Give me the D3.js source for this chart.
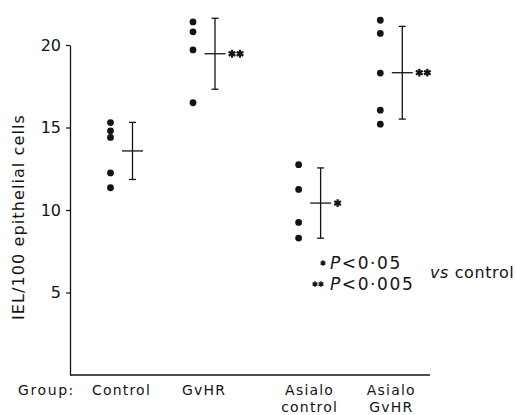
<!DOCTYPE html>
<html>
  <head>
    <meta charset="utf-8">
    <script src="https://d3js.org/d3.v7.min.js"></script>
    <style>
      body { margin: 0; background: #fff; }
      text { font-family: "DejaVu Sans", sans-serif; fill: #141414; }
    </style>
  </head>
<body>
  <script type="text/javascript">
    // groups along the x axis (label lines)
    var groups = ["Control", "GvHR", "Asialo control", "Asialo GvHR"];
    var groupLabels = [["Control"], ["GvHR"], ["Asialo", "control"], ["Asialo", "GvHR"]];

    // individual animals, IEL per 100 epithelial cells
    var controlVals = [15.3, 14.8, 14.4, 12.25, 11.35];
    var gvhrVals = [21.4, 20.8, 19.7, 16.5];
    var asialoControlVals = [12.75, 11.25, 9.25, 8.3];
    var asialoGvhrVals = [21.5, 20.7, 18.3, 16.05, 15.2];

    // group mean and SD
    var means = [13.58, 19.47, 10.42, 18.32];
    var sds = [1.73, 2.15, 2.13, 2.81];

    // significance vs control
    var stars = [0, 2, 1, 2];

    var yTicks = [5, 10, 15, 20];

    var allVals = [controlVals, gvhrVals, asialoControlVals, asialoGvhrVals];

    var width = 517, height = 415;
    // slot of each group on the x axis (wider gap before the asialo groups)
    var slot = [0, 1, 2.28, 3.27];

    var svg = d3.select("body").append("svg")
      .attr("width", width)
      .attr("height", height);

    var x = d3.scaleLinear().domain([-0.624, 3.739]).range([70, 430]);
    var y = d3.scaleLinear().domain([0, 20]).range([375, 45]);

    var ink = "#141414";

    // y axis
    var yAxis = svg.append("g")
      .attr("transform", "translate(70,0)")
      .call(d3.axisLeft(y).tickValues(yTicks).tickSize(4).tickSizeOuter(0).tickPadding(5));
    yAxis.select(".domain").attr("stroke", ink).attr("stroke-width", 1.3);
    yAxis.selectAll(".tick line").attr("stroke", ink).attr("stroke-width", 1.2);
    yAxis.selectAll(".tick text")
      .style("font-size", "16px")
      .style("font-family", "DejaVu Sans, sans-serif")
      .attr("fill", ink);

    // x axis line (no ticks)
    svg.append("line")
      .attr("x1", x.range()[0]).attr("x2", x.range()[1])
      .attr("y1", y(0)).attr("y2", y(0))
      .attr("stroke", ink).attr("stroke-width", 1.3);

    // y axis title
    svg.append("text")
      .attr("transform", "translate(24," + 217 + ") rotate(-90)")
      .attr("text-anchor", "middle")
      .style("font-size", "16px")
      .style("letter-spacing", "1.1px")
      .text("IEL/100 epithelial cells");

    // group labels
    svg.append("text")
      .attr("x", 18).attr("y", 395)
      .style("font-size", "14px")
      .style("letter-spacing", "1.6px")
      .text("Group:");

    groupLabels.forEach(function (lines, i) {
      lines.forEach(function (t, j) {
        svg.append("text")
          .attr("x", x(slot[i]))
          .attr("y", 395 + j * 16.5)
          .attr("text-anchor", "middle")
          .style("font-size", "14px")
          .style("letter-spacing", "1.2px")
          .text(t);
      });
    });

    var off = 11;

    // points
    allVals.forEach(function (vals, i) {
      svg.append("g").selectAll("circle")
        .data(vals)
        .enter().append("circle")
          .attr("cx", x(slot[i]) - off)
          .attr("cy", function (d) { return y(d); })
          .attr("r", 3.4)
          .attr("fill", ink);
    });

    // mean +/- SD
    var bars = svg.append("g").selectAll("g")
      .data(groups)
      .enter().append("g")
        .attr("stroke", ink)
        .attr("stroke-width", 1.3);

    bars.append("line")
      .attr("x1", function (d, i) { return x(slot[i]) + off; })
      .attr("x2", function (d, i) { return x(slot[i]) + off; })
      .attr("y1", function (d, i) { return y(means[i] + sds[i]); })
      .attr("y2", function (d, i) { return y(means[i] - sds[i]); });

    [1, -1].forEach(function (s) {
      bars.append("line")
        .attr("x1", function (d, i) { return x(slot[i]) + off - 3.5; })
        .attr("x2", function (d, i) { return x(slot[i]) + off + 3.5; })
        .attr("y1", function (d, i) { return y(means[i] + s * sds[i]); })
        .attr("y2", function (d, i) { return y(means[i] + s * sds[i]); });
    });

    bars.append("line")
      .attr("x1", function (d, i) { return x(slot[i]) + off - 10.5; })
      .attr("x2", function (d, i) { return x(slot[i]) + off + 10.5; })
      .attr("y1", function (d, i) { return y(means[i]); })
      .attr("y2", function (d, i) { return y(means[i]); });

    // asterisks
    function drawStar(cx, cy, size, sw) {
      svg.append("path")
        .attr("d", d3.symbol().type(d3.symbolAsterisk).size(size)())
        .attr("transform", "translate(" + cx + "," + cy + ")")
        .attr("fill", "none")
        .attr("stroke", ink)
        .attr("stroke-width", sw);
    }

    stars.forEach(function (n, i) {
      for (var k = 0; k < n; k++) {
        drawStar(x(slot[i]) + off + 17 + k * 8, y(means[i]), 42, 2.2);
      }
    });

    // legend
    drawStar(323, 263, 22, 1.5);
    drawStar(315, 284, 22, 1.5);
    drawStar(321, 284, 22, 1.5);

    var leg1 = svg.append("text").attr("x", 330).attr("y", 269)
      .style("font-size", "17px").style("letter-spacing", "1.6px");
    leg1.append("tspan").style("font-style", "italic").text("P");
    leg1.append("tspan").text("<0·05");

    var leg2 = svg.append("text").attr("x", 330).attr("y", 290)
      .style("font-size", "17px").style("letter-spacing", "1.6px");
    leg2.append("tspan").style("font-style", "italic").text("P");
    leg2.append("tspan").text("<0·005");

    var vs = svg.append("text").attr("x", 430).attr("y", 278)
      .style("font-size", "16px").style("letter-spacing", "0.6px");
    vs.append("tspan").style("font-style", "italic").text("vs");
    vs.append("tspan").text(" control");
  </script>
</body>
</html>
